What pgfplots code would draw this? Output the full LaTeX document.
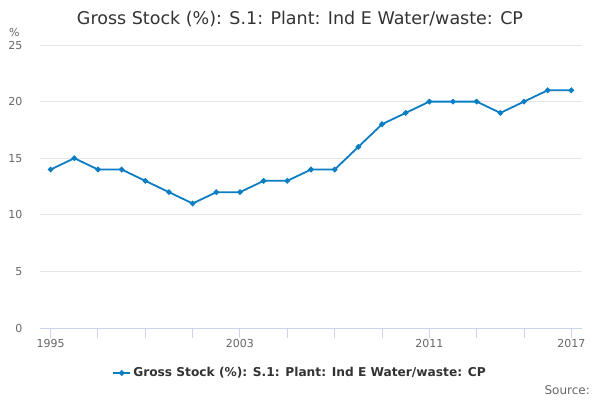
\documentclass[border=0pt]{standalone}
\usepackage{fontspec}
\setmainfont{DejaVu Sans}
\usepackage{pgfplots}
\pgfplotsset{compat=1.18}
\definecolor{lineblue}{RGB}{10,125,195}
\definecolor{txt}{HTML}{333333}
\definecolor{tick}{HTML}{666666}
\definecolor{axisc}{HTML}{CCD6EB}
\definecolor{gridc}{HTML}{E6E6E6}
\begin{document}
\begin{tikzpicture}[x=1pt,y=1pt]
\path[use as bounding box] (0,0) rectangle (600,400);
\begin{axis}[
  at={(40pt,72pt)}, anchor=south west,
  scale only axis, width=542pt, height=283pt,
  xmin=1994.55, xmax=2017.45, ymin=0, ymax=25,
  axis y line*=left,
  axis x line*=bottom,
  y axis line style={draw=none},
  x axis line style={draw=axisc, line width=1pt, -},
  xtick={1995,1997,...,2017},
  xticklabels={1995,,,,2003,,,,2011,,,2017},
  xtick style={draw=axisc, line width=1pt},
  ytick style={draw=none},
  tick align=outside,
  major tick length=10pt,
  ytick={0,5,10,15,20,25},
  ymajorgrids, grid style={draw=gridc, line width=0.8pt},
  /pgf/number format/assume math mode=true,
  ticklabel style={font=\fontsize{11}{13}\selectfont, text=tick},
  xticklabel style={yshift=2pt},
  yticklabel style={xshift=-4pt},
  title={Gross Stock (\%): S.1: Plant: Ind E Water/waste: CP},
  title style={font=\fontsize{17.5}{20}\selectfont, text=txt, at={(0.4797,1)}, anchor=center, yshift=20pt},
  legend style={at={(0.4797,-0.159)}, anchor=center, draw=none, fill=none,
    font=\bfseries\fontsize{12.2}{14}\selectfont, text=txt},
  legend image code/.code={\draw[#1, line width=2pt] (0pt,0pt) -- (17pt,0pt); \fill[lineblue] (8.5pt,0pt) circle (1.8pt);},
]
\addplot[color=lineblue, line width=1.8pt, mark=*, mark size=1.8pt, mark options={fill=lineblue, draw=lineblue}]
  coordinates {
  (1995,14) (1996,15) (1997,14) (1998,14) (1999,13) (2000,12) (2001,11) (2002,12)
  (2003,12) (2004,13) (2005,13) (2006,14) (2007,14) (2008,16) (2009,18) (2010,19)
  (2011,20) (2012,20) (2013,20) (2014,19) (2015,20) (2016,21) (2017,21)};
\addlegendentry{Gross Stock (\%): S.1: Plant: Ind E Water/waste: CP}
\end{axis}
\node[anchor=south west, font=\fontsize{11}{13}\selectfont, text=tick, inner sep=0pt] at (9,363) {\%};
\node[anchor=east, font=\fontsize{12}{14}\selectfont, text=tick, inner sep=0pt] at (590,10) {Source:};
\end{tikzpicture}
\end{document}
